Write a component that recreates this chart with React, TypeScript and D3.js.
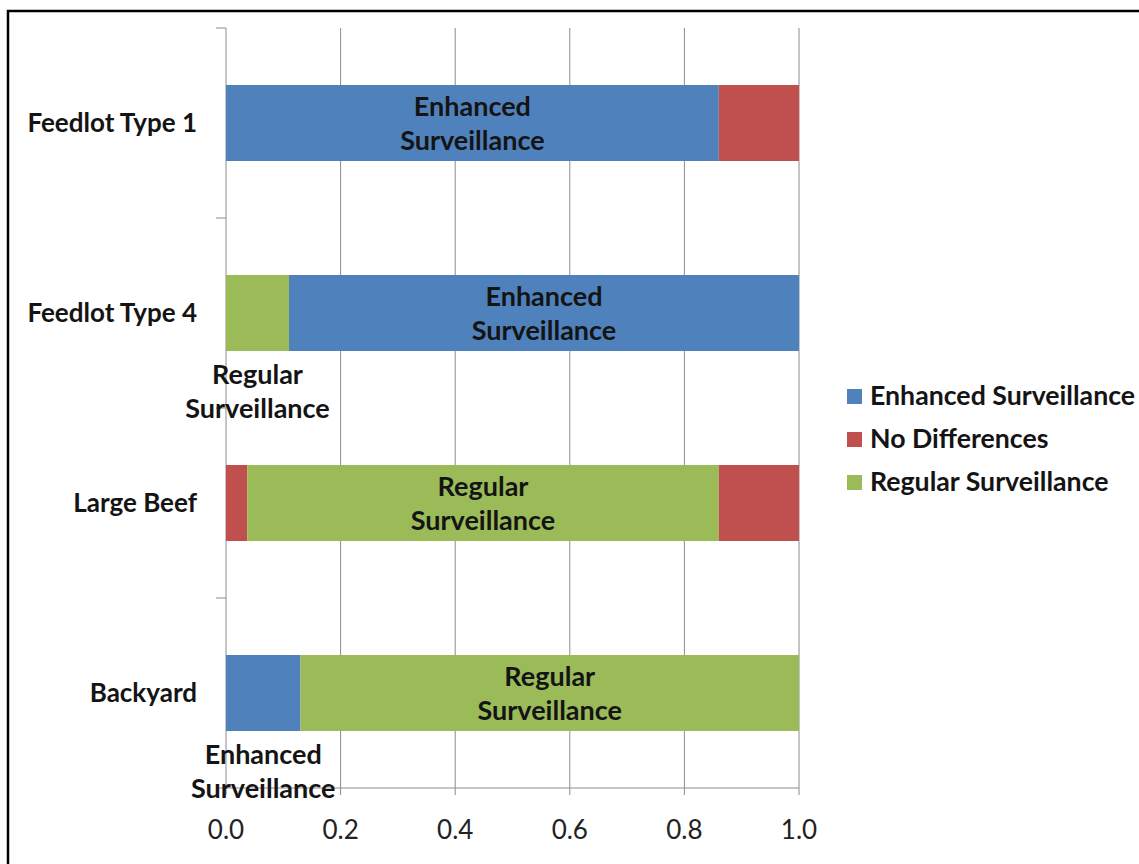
import React, { useEffect, useRef } from "react";
import * as d3 from "d3";

// Categories, top to bottom
const categories = ["Feedlot Type 1", "Feedlot Type 4", "Large Beef", "Backyard"];

// Legend series and their colours
const seriesNames = ["Enhanced Surveillance", "No Differences", "Regular Surveillance"];
const seriesColors = ["#4F81BD", "#C0504D", "#9BBB59"];

// Segment order and share for each category (left to right)
const segmentSeries = [
  ["Enhanced Surveillance", "No Differences"],
  ["Regular Surveillance", "Enhanced Surveillance"],
  ["No Differences", "Regular Surveillance", "No Differences"],
  ["Enhanced Surveillance", "Regular Surveillance"],
];
const segmentValues = [
  [0.86, 0.14],
  [0.11, 0.89],
  [0.037, 0.823, 0.14],
  [0.13, 0.87],
];

// Which segments carry a label: "in" = inside the bar, "below" = under the bar
const segmentLabelPlacement = [
  ["in", ""],
  ["below", "in"],
  ["", "in", ""],
  ["below", "in"],
];

const xTicks = [0, 0.2, 0.4, 0.6, 0.8, 1.0];

const W = 1139;
const H = 864;
const plot = { left: 226, right: 799, top: 28, bottom: 788 };
const FONT = "Lato, 'Open Sans', sans-serif";

export default function App() {
  const ref = useRef<SVGSVGElement | null>(null);

  useEffect(() => {
    const svg = d3.select(ref.current);
    svg.selectAll("*").remove();

    const x = d3.scaleLinear().domain([0, 1]).range([plot.left, plot.right]);
    const y = d3
      .scaleBand()
      .domain(categories)
      .range([plot.top, plot.bottom])
      .paddingInner(0.6)
      .paddingOuter(0.3);
    const color = d3.scaleOrdinal<string, string>().domain(seriesNames).range(seriesColors);

    svg.append("rect").attr("width", W).attr("height", H).attr("fill", "#fff");

    // Frame: top and left edges
    svg
      .append("path")
      .attr("d", `M8,${H} V11 H${W}`)
      .attr("fill", "none")
      .attr("stroke", "#000")
      .attr("stroke-width", 2.5);

    // Vertical gridlines
    svg
      .append("g")
      .selectAll("line")
      .data(xTicks)
      .join("line")
      .attr("x1", (d) => x(d))
      .attr("x2", (d) => x(d))
      .attr("y1", plot.top)
      .attr("y2", plot.bottom + 7)
      .attr("stroke", "#8c8c8c")
      .attr("stroke-width", 1);

    // Bottom axis line
    svg
      .append("line")
      .attr("x1", plot.left)
      .attr("x2", plot.right)
      .attr("y1", plot.bottom)
      .attr("y2", plot.bottom)
      .attr("stroke", "#8c8c8c");

    // Category boundary ticks on the left axis
    const step = (plot.bottom - plot.top) / categories.length;
    const boundaries = d3.range(categories.length + 1).map((i) => plot.top + i * step);
    svg
      .append("g")
      .selectAll("line")
      .data(boundaries)
      .join("line")
      .attr("x1", plot.left - 10)
      .attr("x2", plot.left)
      .attr("y1", (d) => d)
      .attr("y2", (d) => d)
      .attr("stroke", "#8c8c8c");

    // Bars
    const segs: { cat: string; series: string; x0: number; x1: number; place: string }[] = [];
    categories.forEach((cat, i) => {
      let acc = 0;
      segmentValues[i].forEach((v, j) => {
        segs.push({ cat, series: segmentSeries[i][j], x0: acc, x1: acc + v, place: segmentLabelPlacement[i][j] });
        acc += v;
      });
    });

    svg
      .append("g")
      .selectAll("rect")
      .data(segs)
      .join("rect")
      .attr("x", (d) => x(d.x0))
      .attr("width", (d) => x(d.x1) - x(d.x0))
      .attr("y", (d) => y(d.cat)!)
      .attr("height", y.bandwidth())
      .attr("fill", (d) => color(d.series));

    // Segment labels (two lines)
    const labelled = segs.filter((d) => d.place);
    const lg = svg.append("g");
    labelled.forEach((d) => {
      const words = d.series.split(" ");
      const cx = (x(d.x0) + x(d.x1)) / 2;
      const cy = y(d.cat)! + y.bandwidth() / 2;
      const baseY = d.place === "in" ? cy - 7 : y(d.cat)! + y.bandwidth() + 33;
      const t = lg
        .append("text")
        .attr("text-anchor", "middle")
        .attr("font-family", FONT)
        .attr("font-weight", "bold")
        .attr("font-size", 27)
        .attr("fill", "#141414");
      words.forEach((w, k) => {
        t.append("tspan").attr("x", cx).attr("y", baseY + k * 34).text(w);
      });
    });

    // Category labels
    svg
      .append("g")
      .selectAll("text")
      .data(categories)
      .join("text")
      .attr("x", 197)
      .attr("y", (d) => y(d)! + y.bandwidth() / 2 + 9)
      .attr("text-anchor", "end")
      .attr("font-family", FONT)
      .attr("font-weight", "bold")
      .attr("font-size", 26)
      .attr("fill", "#141414")
      .text((d) => d);

    // X tick labels
    svg
      .append("g")
      .selectAll("text")
      .data(xTicks)
      .join("text")
      .attr("x", (d) => x(d))
      .attr("y", 839)
      .attr("text-anchor", "middle")
      .attr("font-family", FONT)
      .attr("font-size", 26)
      .attr("fill", "#222")
      .text((d) => d3.format(".1f")(d));

    // Legend
    const legend = svg
      .append("g")
      .selectAll("g")
      .data(seriesNames)
      .join("g")
      .attr("transform", (_d, i) => `translate(847, ${396 + i * 43})`);
    legend
      .append("rect")
      .attr("x", 0)
      .attr("y", -7)
      .attr("width", 15)
      .attr("height", 15)
      .attr("fill", (d) => color(d));
    legend
      .append("text")
      .attr("x", 23)
      .attr("y", 9)
      .attr("font-family", FONT)
      .attr("font-weight", "bold")
      .attr("font-size", 26.7)
      .attr("fill", "#141414")
      .text((d) => d);
  }, []);

  return (
    <svg
      ref={ref}
      width={W}
      height={H}
      style={{ position: "absolute", left: 0, top: 0, display: "block" }}
    />
  );
}
